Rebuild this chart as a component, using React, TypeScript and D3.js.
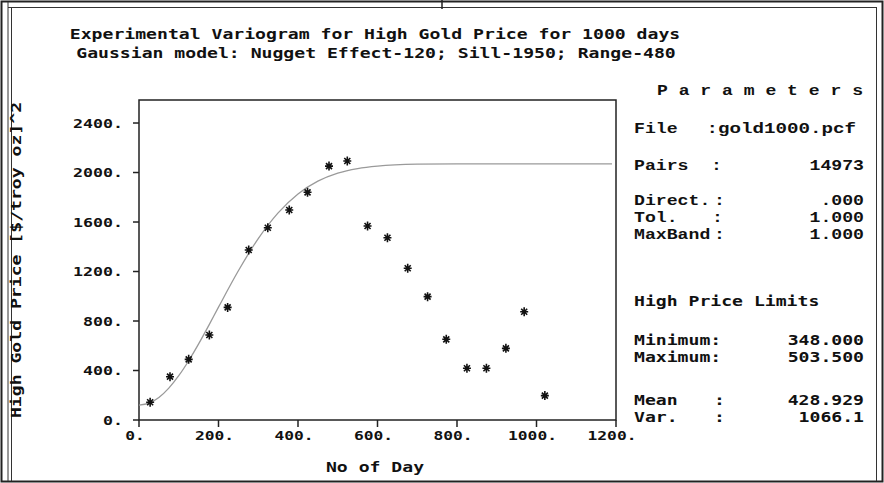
import * as React from 'react';
import * as d3 from 'd3';

// experimental variogram points (lag in days, semivariance)
const lags = [28, 78, 125, 177, 223, 276, 324, 378, 424, 478, 524, 575, 625, 676, 726, 773, 825, 874, 923, 969, 1021];
const gammas = [143, 350, 490, 687, 910, 1374, 1554, 1697, 1840, 2052, 2093, 1568, 1473, 1226, 997, 652, 418, 418, 579, 875, 197];

// fitted gaussian model
const modelLags = [0, 25, 50, 75, 100, 125, 150, 175, 200, 250, 300, 350, 400, 450, 500, 550, 600, 700, 800, 1000, 1190];
const modelGammas = [120, 136, 182, 258, 358, 479, 615, 761, 912, 1206, 1466, 1674, 1827, 1930, 1995, 2032, 2052, 2067, 2070, 2070, 2070];

const xTicks = [0, 200, 400, 600, 800, 1000, 1200];
const yTicks = [0, 400, 800, 1200, 1600, 2000, 2400];

const titleLines = [
  'Experimental Variogram for High Gold Price for 1000 days',
  'Gaussian model: Nugget Effect-120; Sill-1950; Range-480',
];
const xTitle = 'No of Day';
const yTitle = 'High Gold Price [$/troy oz]^2';

const paramLabels = ['File', 'Pairs', 'Direct.', 'Tol.', 'MaxBand'];
const paramColons = [':', ':', ':', ':', ':'];
const paramValues = [':gold1000.pcf', '14973', '.000', '1.000', '1.000'];
const limitLabels = ['Minimum:', 'Maximum:', 'Mean', 'Var.'];
const limitValues = ['348.000', '503.500', '428.929', '1066.1'];

const W = 884;
const H = 483;
const plot = { left: 139, right: 616, top: 100, bottom: 420 };

const sans = "'DejaVu Sans Mono', monospace";
const serif = "'Liberation Mono', 'DejaVu Sans Mono', monospace";

// stretched monospace text, mimics the wide bitmap font
const T = ({ x, y, s, cw = 10.9, size = 14, anchor = 'start', family = sans, transform = undefined }) => (
  <text
    x={x}
    y={y}
    fontFamily={family}
    fontWeight='bold'
    fontSize={size}
    textAnchor={anchor}
    textLength={s.length * cw}
    lengthAdjust='spacingAndGlyphs'
    transform={transform}
    fill='#111'>
    {s}
  </text>
);

const App = () => {
  const x = d3.scaleLinear().domain([0, 1200]).range([plot.left, plot.right]);
  const y = d3.scaleLinear().domain([0, 2586]).range([plot.bottom, plot.top]);

  const model = d3
    .line<number>()
    .x((d, i) => x(modelLags[i]))
    .y((d) => y(d))
    .curve(d3.curveMonotoneX)(modelGammas);

  const star = 'M-4,0H4M0,-4.5V4.5M-3,-3L3,3M-3,3L3,-3';

  const paramY = [133, 170, 205, 222, 239];
  const colonX = [700, 711, 714, 712, 714];
  const limitY = [345, 362, 405, 422];

  return (
    <svg width={W} height={H} style={{ position: 'absolute', left: 0, top: 0, background: '#fff' }}>
      {/* window frame */}
      <rect x={1.5} y={1.5} width={W - 3} height={H - 3} fill='none' stroke='#222' strokeWidth={2} />
      <line x1={8} x2={8} y1={2} y2={H - 2} stroke='#333' strokeWidth={1} />
      <line x1={11.5} x2={11.5} y1={8} y2={H - 2} stroke='#333' strokeWidth={1} />
      <line x1={8} x2={W - 7} y1={7.5} y2={7.5} stroke='#333' strokeWidth={1} />
      <line x1={W - 7.5} x2={W - 7.5} y1={7.5} y2={H - 2} stroke='#333' strokeWidth={1} />
      <line x1={W / 2} x2={W / 2} y1={0} y2={9} stroke='#222' strokeWidth={1.5} />

      {/* titles */}
      <T x={375} y={39} s={titleLines[0]} anchor='middle' />
      <T x={376} y={58} s={titleLines[1]} anchor='middle' />

      {/* plot box */}
      <rect
        x={plot.left}
        y={plot.top}
        width={plot.right - plot.left}
        height={plot.bottom - plot.top}
        fill='none'
        stroke='#222'
        strokeWidth={1.5}
      />

      {/* y axis */}
      {yTicks.map((t) => (
        <g key={'y' + t}>
          <line x1={plot.left - 6} x2={plot.left} y1={y(t)} y2={y(t)} stroke='#222' strokeWidth={1.5} />
          <T x={123} y={y(t) + 4.5} s={t + '.'} cw={10} size={12} anchor='end' />
        </g>
      ))}
      <T x={0} y={0} s={yTitle} transform={`translate(21,${(plot.top + plot.bottom) / 2}) rotate(-90)`} anchor='middle' />

      {/* x axis */}
      {xTicks.map((t) => (
        <g key={'x' + t}>
          <line x1={x(t)} x2={x(t)} y1={plot.bottom} y2={plot.bottom + 7} stroke='#222' strokeWidth={1.5} />
          <T x={x(t) - 4} y={440} s={t + '.'} cw={9.8} size={12} anchor='middle' />
        </g>
      ))}
      <T x={375} y={472} s={xTitle} anchor='middle' />

      {/* model curve */}
      <path d={model} fill='none' stroke='#9a9a9a' strokeWidth={1.3} />

      {/* experimental points */}
      {lags.map((l, i) => (
        <path
          key={'p' + i}
          d={star}
          transform={`translate(${x(l)},${y(gammas[i])})`}
          fill='none'
          stroke='#111'
          strokeWidth={1.6}
        />
      ))}

      {/* parameter panel */}
      <T x={657} y={95} s='P a r a m e t e r s' cw={206 / 19} family={serif} />
      {paramLabels.map((lab, i) => (
        <g key={'pl' + i}>
          <T x={634} y={paramY[i]} s={lab} family={serif} />
          {i > 0 && <T x={colonX[i]} y={paramY[i]} s={paramColons[i]} family={serif} />}
          <T x={i === 0 ? 856 : 864} y={paramY[i]} s={paramValues[i]} anchor='end' family={serif} cw={i === 0 ? 11.5 : 10.9} />
        </g>
      ))}

      <T x={634} y={306} s='High Price Limits' />
      {limitLabels.map((lab, i) => (
        <g key={'ll' + i}>
          <T x={634} y={limitY[i]} s={lab} />
          {i > 1 && <T x={714} y={limitY[i]} s=':' />}
          <T x={864} y={limitY[i]} s={limitValues[i]} anchor='end' />
        </g>
      ))}
    </svg>
  );
};

export default App;
